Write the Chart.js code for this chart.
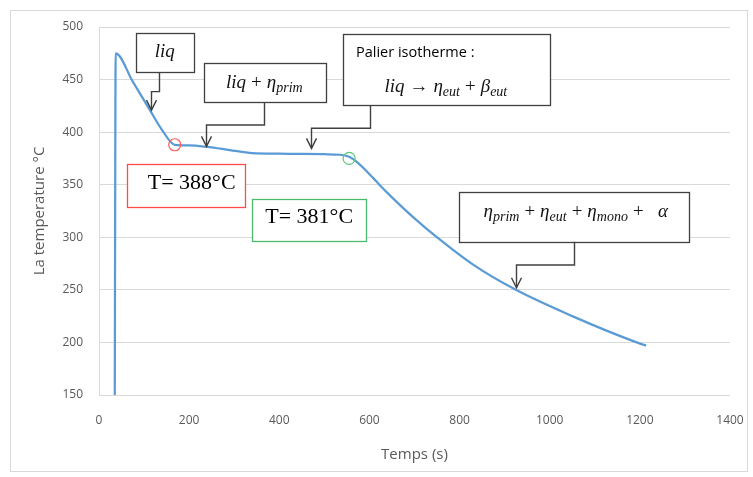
<!DOCTYPE html>
<html><head><meta charset="utf-8">
<script src="https://cdn.jsdelivr.net/npm/chart.js@4.4.0/dist/chart.umd.min.js"></script>
<style>html,body{margin:0;padding:0;background:#fff}canvas{display:block}</style>
</head><body>
<canvas id="c" width="753" height="477"></canvas>
<script>
// ---- data ----
const timeS = [35, 37, 75, 113, 140, 168, 200, 240, 290, 340, 400, 450, 500, 535, 555, 575, 608, 622, 650, 700, 750, 830, 925, 1050, 1193, 1214];
const tempC = [150, 475, 448, 421, 402, 388, 387.5, 386, 383, 380, 379.5, 379.3, 379, 378.5, 376.5, 370.5, 356.5, 350, 338, 318, 300, 274, 250, 225, 200, 197];
const xTicks = [0, 200, 400, 600, 800, 1000, 1200, 1400];
const yTicks = [150, 200, 250, 300, 350, 400, 450, 500];
const xTitle = 'Temps (s)';
const yTitle = 'La temperature °C';
// marked points (time, temperature)
const markRed = [168, 388];
const markGreen = [555, 375];
const labelRed = 'T= 388°C';
const labelGreen = 'T= 381°C';
const labelPalier = 'Palier isotherme :';

const AX = '#595959';
const BOX = '#404040';

// rich text segments: [text, kind] kind: i=italic, s=subscript, o=operator (with side gaps)
const txtLiq = [['liq','i']];
const txtLiqPrim = [['liq','i'],['+','o'],['η','i'],['prim','s']];
const txtEut = [['liq','i'],['→','o'],['η','i'],['eut','s'],['+','o'],['β','i'],['eut','s']];
const txtSolid = [['η','i'],['prim','s'],['+','o'],['η','i'],['eut','s'],['+','o'],['η','i'],['mono','s'],['+','o'],['  α','i']];

const FONTS = {
  i: 'italic 19px "Liberation Serif"',
  s: 'italic 14px "Liberation Serif"',
  o: '19px "Liberation Serif"'
};
const OPGAP = 5;
function rich(ctx, parts, x, by, align) {
  let w = 0;
  parts.forEach(p => { ctx.font = FONTS[p[1]]; w += ctx.measureText(p[0]).width + (p[1] === 'o' ? 2 * OPGAP : 0); });
  let cx = align === 'center' ? x - w / 2 : x;
  ctx.textAlign = 'left';
  ctx.textBaseline = 'alphabetic';
  parts.forEach(p => {
    ctx.font = FONTS[p[1]];
    if (p[1] === 'o') cx += OPGAP;
    ctx.fillText(p[0], cx, p[1] === 's' ? by + 4 : by);
    cx += ctx.measureText(p[0]).width;
    if (p[1] === 'o') cx += OPGAP;
  });
}

const annot = {
  id: 'annot',
  beforeDraw(chart) {
    const ctx = chart.ctx;
    ctx.save();
    ctx.strokeStyle = '#d9d9d9';
    ctx.lineWidth = 1;
    ctx.strokeRect(10.5, 10.5, 737, 461);
    ctx.restore();
  },
  afterDatasetsDraw(chart) {
    const { ctx, scales: { x, y } } = chart;
    const X = v => x.getPixelForValue(v), Y = v => y.getPixelForValue(v);
    ctx.save();
    function box(t0, T0, t1, T1, color) {
      const l = Math.round(X(t0)) + 0.5, r = Math.round(X(t1)) + 0.5;
      const tp = Math.round(Y(T0)) + 0.5, b = Math.round(Y(T1)) + 0.5;
      ctx.fillStyle = '#fff';
      ctx.fillRect(l, tp, r - l, b - tp);
      ctx.strokeStyle = color;
      ctx.lineWidth = 1.3;
      ctx.strokeRect(l, tp, r - l, b - tp);
    }
    function connector(pts) {
      ctx.strokeStyle = BOX;
      ctx.lineWidth = 1.4;
      ctx.beginPath();
      pts.forEach((p, i) => {
        const px = Math.round(X(p[0])) + 0.5, py = Y(p[1]);
        i ? ctx.lineTo(px, py) : ctx.moveTo(px, py);
      });
      ctx.stroke();
      const last = pts[pts.length - 1];
      const tx = Math.round(X(last[0])) + 0.5, ty = Y(last[1]);
      ctx.beginPath();
      ctx.moveTo(tx - 5, ty - 10);
      ctx.lineTo(tx, ty);
      ctx.lineTo(tx + 5, ty - 10);
      ctx.stroke();
    }
    function circle(t, T, color) {
      ctx.strokeStyle = color;
      ctx.lineWidth = 1.2;
      ctx.beginPath();
      ctx.arc(X(t), Y(T), 6, 0, Math.PI * 2);
      ctx.stroke();
    }
    // liq
    box(82, 494, 210, 457, BOX);
    connector([[133, 457], [133, 438.5], [115, 438.5], [115, 421]]);
    // liq + eta prim
    box(233.6, 465.5, 503.6, 428.4, BOX);
    connector([[366, 428.4], [366, 406.8], [236.7, 406.8], [236.7, 386.5]]);
    // palier
    box(540.7, 493.1, 1000.6, 425.5, BOX);
    connector([[601.3, 425.5], [601.3, 403.7], [469.7, 403.7], [469.7, 384.6]]);
    // solid
    box(798.7, 342.8, 1309.7, 295.8, BOX);
    connector([[1054.6, 295.8], [1054.6, 273.6], [925.2, 273.6], [925.2, 252]]);
    // red / green labels
    box(61.5, 369.4, 323.9, 329.1, '#ff4b4b');
    box(340.1, 336.1, 592.4, 296.8, '#4dbb6d');
    circle(markRed[0], markRed[1], '#ff5a5a');
    circle(markGreen[0], markGreen[1], '#5cc97a');

    ctx.fillStyle = '#111';
    rich(ctx, txtLiq, X(146), Y(471.5), 'center');
    rich(ctx, txtLiqPrim, X(366.9), Y(441.7), 'center');
    rich(ctx, txtEut, X(769.5), Y(438.5), 'center');
    rich(ctx, txtSolid, X(1057.9), Y(319.6), 'center');
    ctx.font = '14.5px "Open Sans"';
    ctx.textAlign = 'left';
    ctx.textBaseline = 'alphabetic';
    ctx.fillStyle = '#000';
    ctx.fillText(labelPalier, X(570.2), Y(471.8));
    ctx.font = '22px "Liberation Serif"';
    ctx.textAlign = 'center';
    ctx.fillText(labelRed, X(205.6), Y(345.9));
    ctx.fillText(labelGreen, X(466.3), Y(313.3));
    ctx.restore();
  }
};

new Chart(document.getElementById('c'), {
  type: 'scatter',
  data: {
    datasets: [{
      data: timeS.map((t, i) => ({ x: t, y: tempC[i] })),
      showLine: true,
      borderColor: '#5b9bd5',
      borderWidth: 2.25,
      pointRadius: 0,
      cubicInterpolationMode: 'monotone',
      fill: false
    }]
  },
  options: {
    responsive: false,
    animation: false,
    devicePixelRatio: 1,
    layout: { padding: { left: 0, right: 23, top: 27, bottom: 0 } },
    plugins: { legend: { display: false }, tooltip: { enabled: false } },
    scales: {
      x: {
        type: 'linear', min: 0, max: 1400,
        afterBuildTicks: s => { s.ticks = xTicks.map(v => ({ value: v })); },
        afterFit: s => { s.height = 82; s.paddingRight = 23; s.paddingLeft = 0; },
        grid: { display: false, drawTicks: false },
        border: { display: false },
        ticks: { color: AX, font: { family: 'Open Sans', size: 12 }, padding: 18, maxRotation: 0, callback: v => String(v) },
        title: { display: true, text: xTitle, color: AX, font: { family: 'Open Sans', size: 15 }, padding: { top: 0, bottom: 13 } }
      },
      y: {
        min: 150, max: 500,
        afterBuildTicks: s => { s.ticks = yTicks.map(v => ({ value: v })); },
        afterFit: s => { s.width = 99; },
        grid: { color: '#d9d9d9', lineWidth: 1, drawTicks: false },
        border: { display: true, color: '#d9d9d9' },
        ticks: { color: AX, font: { family: 'Open Sans', size: 12 }, padding: 16, callback: v => String(v) },
        title: { display: true, text: yTitle, color: AX, font: { family: 'Open Sans', size: 15 }, padding: { top: 31, bottom: 0 } }
      }
    }
  },
  plugins: [annot]
});
</script>
</body></html>
